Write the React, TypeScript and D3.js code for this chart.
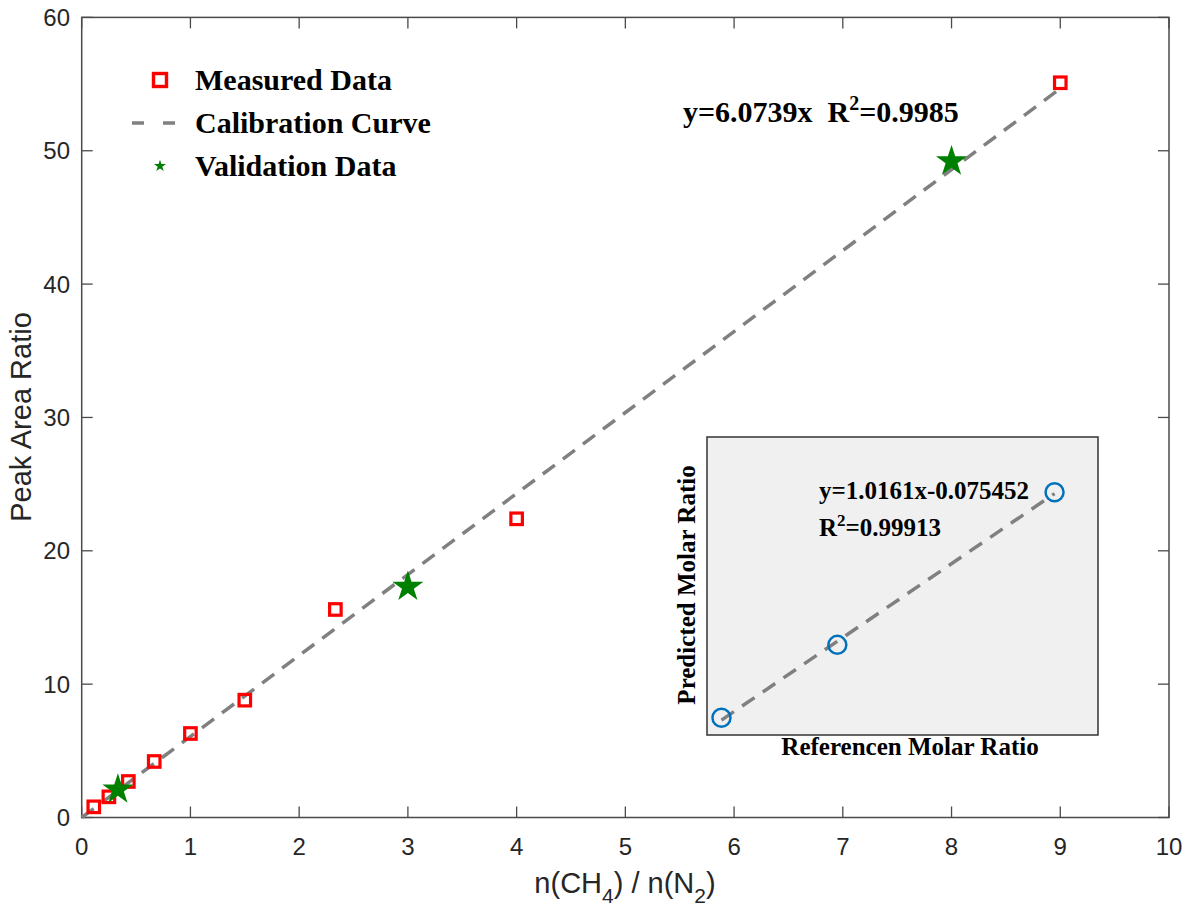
import { useEffect, useRef } from "react";
import * as d3 from "d3";

// Calibration data (molar ratio vs peak area ratio)
const measuredX = [0.111, 0.25, 0.429, 0.667, 1, 1.5, 2.333, 4, 9];
const measuredY = [0.8, 1.55, 2.7, 4.2, 6.3, 8.8, 15.6, 22.4, 55.1];
const validationX = [0.333, 3, 8];
const validationY = [2.1, 17.3, 49.2];
const calibrationSlope = 6.0739;
const calibrationRange = [0, 9];

// Inset: reference vs predicted molar ratio
const referenceRatio = [0.333, 3, 8];
const predictedRatio = [0.34, 2.85, 8.1];
const insetSlope = 1.0161;
const insetIntercept = -0.075452;

const xTicks = [0, 1, 2, 3, 4, 5, 6, 7, 8, 9, 10];
const yTicks = [0, 10, 20, 30, 40, 50, 60];

const legendItems = ["Measured Data", "Calibration Curve", "Validation Data"];

const W = 1193;
const H = 917;
const SERIF = "'Liberation Serif', 'Times New Roman', serif";
const SANS = "'Liberation Sans', Arial, sans-serif";
const AXIS = "#4a4a4a";
const TEXT = "#262626";

export default function App() {
  const svgRef = useRef<SVGSVGElement>(null);

  useEffect(() => {
    if (!svgRef.current) return;
    const svg = d3.select(svgRef.current);
    svg.selectAll("*").remove();

    const x = d3.scaleLinear().domain([0, 10]).range([81.7, 1169]);
    const y = d3.scaleLinear().domain([0, 60]).range([817.5, 17.4]);
    const [x0, x1] = x.range();
    const [y0, y1] = y.range();
    const tickLen = 11;

    svg.append("rect").attr("width", W).attr("height", H).attr("fill", "#fff");

    // Axes box + inward ticks
    const ax = svg.append("g");
    ax.append("rect")
      .attr("x", x0)
      .attr("y", y1)
      .attr("width", x1 - x0)
      .attr("height", y0 - y1)
      .attr("fill", "none")
      .attr("stroke", AXIS)
      .attr("stroke-width", 1.5);

    xTicks.forEach((t) => {
      ax.append("line")
        .attr("x1", x(t)).attr("x2", x(t))
        .attr("y1", y0).attr("y2", y0 - tickLen)
        .attr("stroke", AXIS).attr("stroke-width", 1.3);
      ax.append("line")
        .attr("x1", x(t)).attr("x2", x(t))
        .attr("y1", y1).attr("y2", y1 + tickLen)
        .attr("stroke", AXIS).attr("stroke-width", 1.3);
      ax.append("text")
        .attr("x", x(t))
        .attr("y", 855)
        .attr("text-anchor", "middle")
        .style("font-family", SANS)
        .style("font-size", "24px")
        .style("fill", TEXT)
        .text(t);
    });

    yTicks.forEach((t) => {
      ax.append("line")
        .attr("x1", x0).attr("x2", x0 + tickLen)
        .attr("y1", y(t)).attr("y2", y(t))
        .attr("stroke", AXIS).attr("stroke-width", 1.3);
      ax.append("line")
        .attr("x1", x1).attr("x2", x1 - tickLen)
        .attr("y1", y(t)).attr("y2", y(t))
        .attr("stroke", AXIS).attr("stroke-width", 1.3);
      ax.append("text")
        .attr("x", 70)
        .attr("y", y(t) + 8.5)
        .attr("text-anchor", "end")
        .style("font-family", SANS)
        .style("font-size", "24px")
        .style("fill", TEXT)
        .text(t);
    });

    // Axis labels
    const xl = svg.append("text")
      .attr("x", 625)
      .attr("y", 893)
      .attr("text-anchor", "middle")
      .style("font-family", SANS)
      .style("font-size", "29px")
      .style("fill", TEXT);
    xl.append("tspan").text("n(CH");
    xl.append("tspan").attr("dy", 10).style("font-size", "21px").text("4");
    xl.append("tspan").attr("dy", -10).text(") / n(N");
    xl.append("tspan").attr("dy", 10).style("font-size", "21px").text("2");
    xl.append("tspan").attr("dy", -10).text(")");

    svg.append("text")
      .attr("transform", "translate(31,417) rotate(-90)")
      .attr("text-anchor", "middle")
      .style("font-family", SANS)
      .style("font-size", "29px")
      .style("fill", TEXT)
      .text("Peak Area Ratio");

    // Calibration curve
    const line = d3
      .line<number>()
      .x((d) => x(d))
      .y((d) => y(d * calibrationSlope));
    svg.append("path")
      .attr("d", line(calibrationRange))
      .attr("fill", "none")
      .attr("stroke", "#808080")
      .attr("stroke-width", 3.5)
      .attr("stroke-dasharray", "15,10");

    // Measured squares
    const sq = 11.5;
    svg.append("g")
      .selectAll("rect")
      .data(measuredX.map((d, i) => [d, measuredY[i]]))
      .join("rect")
      .attr("x", (d) => x(d[0]) - sq / 2)
      .attr("y", (d) => y(d[1]) - sq / 2)
      .attr("width", sq)
      .attr("height", sq)
      .attr("fill", "none")
      .attr("stroke", "#ff0000")
      .attr("stroke-width", 3.2);

    // Validation stars
    const star = d3.symbol().type(d3.symbolStar).size(300);
    svg.append("g")
      .selectAll("path")
      .data(validationX.map((d, i) => [d, validationY[i]]))
      .join("path")
      .attr("transform", (d) => `translate(${x(d[0])},${y(d[1])})`)
      .attr("d", star()!)
      .attr("fill", "#008000");

    // Legend
    const legendY = [80, 123, 166];
    const lg = svg.append("g");
    lg.append("rect")
      .attr("x", 160 - 6.5).attr("y", legendY[0] - 6.5)
      .attr("width", 13).attr("height", 13)
      .attr("fill", "none").attr("stroke", "#ff0000").attr("stroke-width", 3.4);
    lg.append("line")
      .attr("x1", 132).attr("x2", 175)
      .attr("y1", legendY[1]).attr("y2", legendY[1])
      .attr("stroke", "#808080").attr("stroke-width", 3.5)
      .attr("stroke-dasharray", "12,19");
    lg.append("path")
      .attr("transform", `translate(160,${legendY[2]})`)
      .attr("d", d3.symbol().type(d3.symbolStar).size(45)()!)
      .attr("fill", "#008000");
    legendItems.forEach((t, i) => {
      lg.append("text")
        .attr("x", 195)
        .attr("y", legendY[i] + 10)
        .style("font-family", SERIF)
        .style("font-weight", "bold")
        .style("font-size", "30px")
        .style("fill", "#000")
        .text(t);
    });

    // Equation annotation
    const eq = svg.append("text")
      .attr("x", 683)
      .attr("y", 122)
      .style("font-family", SERIF)
      .style("font-weight", "bold")
      .style("font-size", "30px")
      .style("fill", "#000")
      .attr("xml:space", "preserve");
    eq.append("tspan").text("y=6.0739x  R");
    eq.append("tspan").attr("dy", -12).style("font-size", "20px").text("2");
    eq.append("tspan").attr("dy", 12).text("=0.9985");

    // Inset
    const ix = d3.scaleLinear().domain([0, 9]).range([707, 1098]);
    const iy = d3.scaleLinear().domain([-0.25, 10]).range([735, 437]);
    const inset = svg.append("g");
    inset.append("rect")
      .attr("x", ix.range()[0])
      .attr("y", iy.range()[1])
      .attr("width", ix.range()[1] - ix.range()[0])
      .attr("height", iy.range()[0] - iy.range()[1])
      .attr("fill", "#f0f0f0")
      .attr("stroke", "#333")
      .attr("stroke-width", 1.5);

    const insetLine = d3
      .line<number>()
      .x((d) => ix(d))
      .y((d) => iy(insetSlope * d + insetIntercept));
    inset.append("path")
      .attr("d", insetLine(d3.extent(referenceRatio) as [number, number]))
      .attr("fill", "none")
      .attr("stroke", "#808080")
      .attr("stroke-width", 3.5)
      .attr("stroke-dasharray", "15,10");

    inset.selectAll("circle")
      .data(referenceRatio.map((d, i) => [d, predictedRatio[i]]))
      .join("circle")
      .attr("cx", (d) => ix(d[0]))
      .attr("cy", (d) => iy(d[1]))
      .attr("r", 9)
      .attr("fill", "none")
      .attr("stroke", "#0072BD")
      .attr("stroke-width", 2.5);

    const ieq = inset.append("text")
      .attr("x", 819)
      .attr("y", 499)
      .style("font-family", SERIF)
      .style("font-weight", "bold")
      .style("font-size", "25px")
      .style("fill", "#000");
    ieq.append("tspan").text("y=1.0161x-0.075452");
    const ir = inset.append("text")
      .attr("x", 819)
      .attr("y", 536)
      .style("font-family", SERIF)
      .style("font-weight", "bold")
      .style("font-size", "25px")
      .style("fill", "#000");
    ir.append("tspan").text("R");
    ir.append("tspan").attr("dy", -10).style("font-size", "17px").text("2");
    ir.append("tspan").attr("dy", 10).text("=0.99913");

    inset.append("text")
      .attr("x", 910)
      .attr("y", 755)
      .attr("text-anchor", "middle")
      .style("font-family", SERIF)
      .style("font-weight", "bold")
      .style("font-size", "25px")
      .style("fill", "#000")
      .text("Referencen Molar Ratio");

    inset.append("text")
      .attr("transform", "translate(695,585) rotate(-90)")
      .attr("text-anchor", "middle")
      .style("font-family", SERIF)
      .style("font-weight", "bold")
      .style("font-size", "25px")
      .style("fill", "#000")
      .text("Predicted Molar Ratio");
  }, []);

  return (
    <div style={{ position: "absolute", left: 0, top: 0 }}>
      <svg ref={svgRef} width={W} height={H} style={{ display: "block" }} />
    </div>
  );
}
